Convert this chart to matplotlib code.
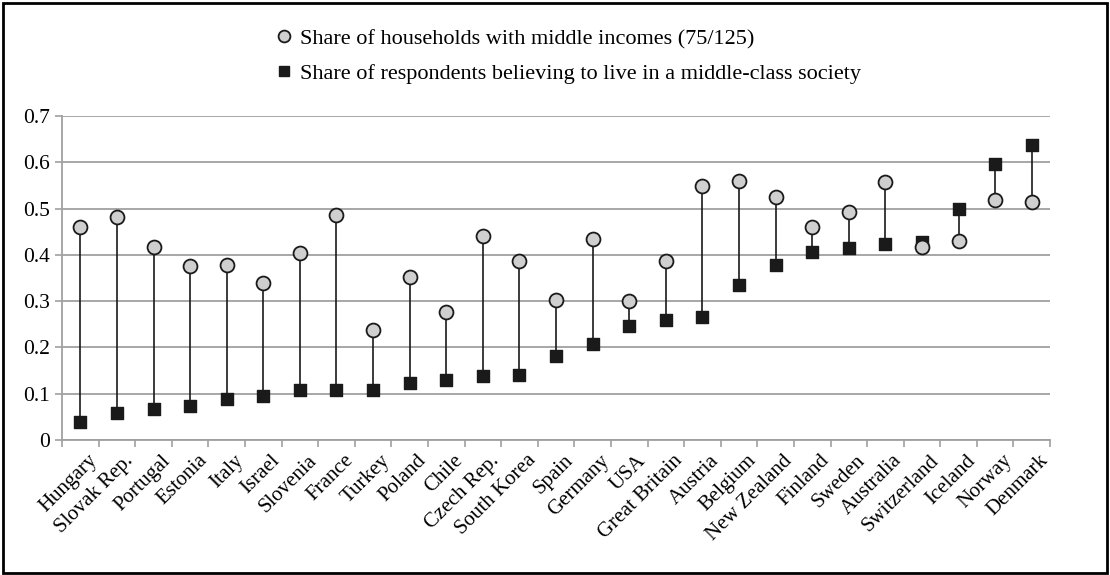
import matplotlib.pyplot as plt
from matplotlib.lines import Line2D
from matplotlib.patches import Rectangle

# Values
countries = ['Hungary', 'Slovak Rep.', 'Portugal', 'Estonia', 'Italy', 'Israel',
             'Slovenia', 'France', 'Turkey', 'Poland', 'Chile', 'Czech Rep.',
             'South Korea', 'Spain', 'Germany', 'USA', 'Great Britain', 'Austria',
             'Belgium', 'New Zealand', 'Finland', 'Sweden', 'Australia',
             'Switzerland', 'Iceland', 'Norway', 'Denmark']
households = [0.46, 0.482, 0.418, 0.376, 0.377, 0.34, 0.405, 0.485, 0.238, 0.352,
              0.276, 0.44, 0.387, 0.302, 0.435, 0.30, 0.387, 0.548, 0.56, 0.525,
              0.46, 0.493, 0.557, 0.418, 0.43, 0.518, 0.514]
respondents = [0.038, 0.059, 0.067, 0.074, 0.089, 0.095, 0.108, 0.109, 0.109, 0.123,
               0.129, 0.139, 0.141, 0.182, 0.208, 0.247, 0.26, 0.266, 0.335, 0.378,
               0.407, 0.415, 0.424, 0.428, 0.50, 0.597, 0.638]
yticks = [0, 0.1, 0.2, 0.3, 0.4, 0.5, 0.6, 0.7]
ytick_labels = ['0', '0.1', '0.2', '0.3', '0.4', '0.5', '0.6', '0.7']

plt.rcParams['font.family'] = ['Liberation Serif', 'DejaVu Serif']

fig = plt.figure(figsize=(11.1, 5.75), dpi=100)
ax = fig.add_axes([0.0559, 0.2348, 0.8901, 0.5635])

x = list(range(len(countries)))
for i in x:
    ax.plot([i, i], [households[i], respondents[i]], color='#1a1a1a', lw=1.2, zorder=2)
ax.scatter(x, respondents, marker='s', s=72, color='#1a1a1a', zorder=3)
ax.scatter(x, households, marker='o', s=100, facecolor='#cfcfcf', edgecolor='#1a1a1a',
           linewidth=1.3, zorder=4)

ax.set_xlim(-0.5, len(countries) - 0.5)
ax.set_ylim(0, 0.7)
ax.set_yticks(yticks)
ax.set_yticklabels(ytick_labels, fontsize=15.5)
ax.yaxis.grid(True, color='#a0a0a0', lw=1.3)
ax.set_axisbelow(True)

ax.set_xticks([i + 0.2 for i in x])
ax.set_xticklabels(countries, rotation=45, ha='right', rotation_mode='anchor', fontsize=15)
ax.set_xticks([i - 0.5 for i in range(len(countries) + 1)], minor=True)
ax.tick_params(axis='x', which='major', length=0, pad=8)
ax.tick_params(axis='x', which='minor', length=5, color='#a0a0a0', width=1.2)
ax.tick_params(axis='y', length=5, color='#a0a0a0', width=1.2, pad=4)

for side in ['top', 'right']:
    ax.spines[side].set_visible(False)
for side in ['left', 'bottom']:
    ax.spines[side].set_color('#a0a0a0')
    ax.spines[side].set_linewidth(1.3)

handles = [
    Line2D([], [], ls='none', marker='o', markersize=8.5, markerfacecolor='#cfcfcf',
           markeredgecolor='#1a1a1a', markeredgewidth=1.3),
    Line2D([], [], ls='none', marker='s', markersize=7.5, color='#1a1a1a'),
]
labels = ['Share of households with middle incomes (75/125)',
          'Share of respondents believing to live in a middle-class society']
fig.legend(handles, labels, loc='upper left', bbox_to_anchor=(0.232, 0.985),
           frameon=False, fontsize=16, handlelength=0.6, handletextpad=0.4,
           labelspacing=0.65)

fig.patches.append(Rectangle((0.003, 0.004), 0.994, 0.991, transform=fig.transFigure,
                             fill=False, edgecolor='black', lw=2))

fig.savefig('out.png', dpi=100)
